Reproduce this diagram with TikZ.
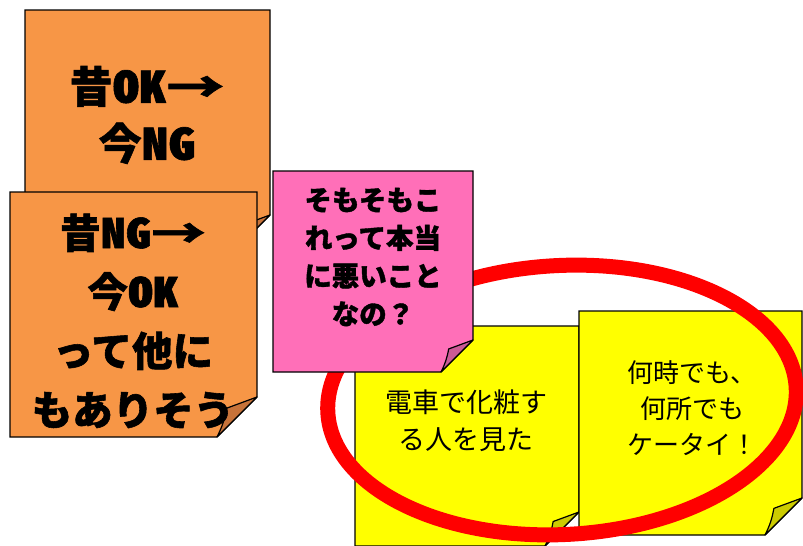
\documentclass[tikz,border=0pt]{standalone}
\usepackage{fontspec}
\newfontfamily\jpfont[BoldFeatures={FakeBold=1.4}]{Noto Sans CJK JP}
\newfontfamily\jpplain{Noto Sans CJK JP}
\newfontfamily\jphw[RawFeature=+hwid, FakeStretch=1.25, BoldFeatures={FakeBold=1.4}]{Noto Sans CJK JP}
\newcommand\halflat[1]{{\jphw\bfseries #1}}
\newcommand\widearrow{\scalebox{1.35}[1]{→}}
\definecolor{noteorange}{HTML}{F79646}
\definecolor{foldorange}{HTML}{C7733A}
\definecolor{notepink}{HTML}{FF6FB8}
\definecolor{foldpink}{HTML}{CC5A96}
\definecolor{noteyellow}{HTML}{FFFF00}
\definecolor{foldyellow}{HTML}{CCCC00}
\definecolor{ringred}{HTML}{FF0000}
\tikzset{
  notebody/.style={draw=black, line width=1.2pt, line join=miter},
  notefold/.style={draw=black, line width=1.2pt, line join=round},
  bigtext/.style={font=\jpfont\bfseries\fontsize{43}{57}\selectfont, align=center, inner sep=0pt},
  bigtextb/.style={font=\jpfont\bfseries\fontsize{40.5}{59}\selectfont, align=center, inner sep=0pt},
  pinktext/.style={font=\jpfont\bfseries\fontsize{27.5}{38}\selectfont, align=center, inner sep=0pt},
  yellowtext/.style={font=\jpplain\fontsize{27}{37}\selectfont, align=center, inner sep=0pt},
  yellowtextb/.style={font=\jpplain\fontsize{26}{36}\selectfont, align=center, inner sep=0pt},
  ring/.style={draw=ringred, line width=15pt}
}
% #1 L, #2 T, #3 R, #4 B, #5 fold size, #6 fill, #7 fold fill
\newcommand\stickynote[7]{%
  \path[notebody, fill=#6] ({#1},{#2}) -- ({#3},{#2}) -- ({#3},{#4-#5}) -- ({#3-#5},{#4}) -- ({#1},{#4}) -- cycle;
  \path[notefold, fill=#7] ({#3},{#4-#5}) -- ({#3-0.76*#5},{#4-0.72*#5}) to[bend left=8] ({#3-#5},{#4}) -- cycle;
}
\begin{document}
\begin{tikzpicture}[x=1pt,y=-1pt]
\useasboundingbox (0,0) rectangle (803,546);
% orange notes
\stickynote{25}{10}{270}{255}{40}{noteorange}{foldorange}
\node[bigtext] (t1) at (147,115) {昔\halflat{OK}\widearrow\\今\halflat{NG}};
\stickynote{10}{192}{257}{437}{40}{noteorange}{foldorange}
\node[bigtextb] (t2) at (133,321) {昔\halflat{NG}\widearrow\\今\halflat{OK}\\って他に\\もありそう};
% yellow notes
\stickynote{355}{326}{579}{546}{34}{noteyellow}{foldyellow}
\node[yellowtext] (t3) at (466,421) {電車で化粧す\\る人を見た};
\stickynote{579}{311}{802}{535}{37}{noteyellow}{foldyellow}
\node[yellowtextb] (t4) at (692,408) {何時でも、\\何所でも\\ケータイ！};
% red ring
\draw[ring, rotate around={3:(562,400)}] (562,400) ellipse [x radius=234.5pt, y radius=134.5pt];
% pink note
\stickynote{273}{171}{473}{372}{32}{notepink}{foldpink}
\node[pinktext] (t5) at (373,257) {そもそもこ\\れって本当\\に悪いこと\\なの？};
\end{tikzpicture}
\end{document}
